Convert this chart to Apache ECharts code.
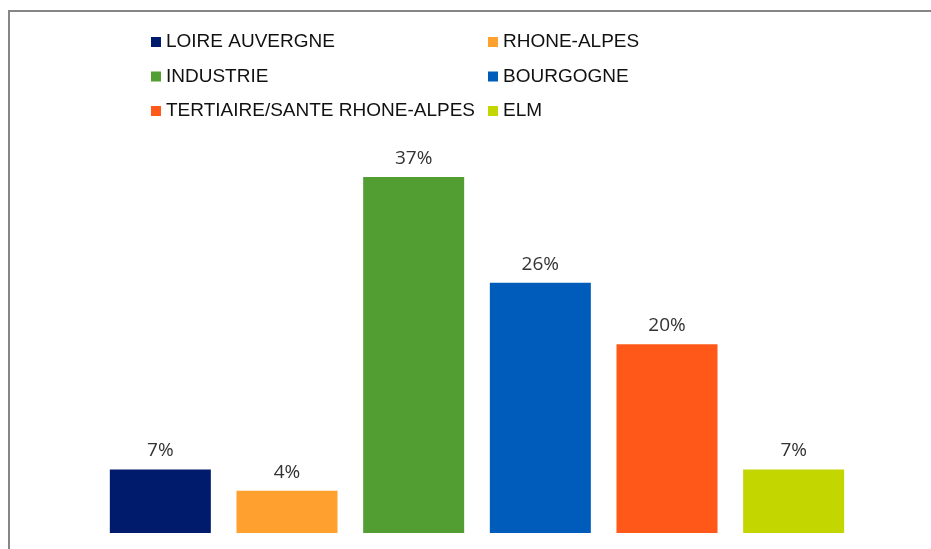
<!DOCTYPE html>
<html>
<head>
<meta charset="utf-8">
<script src="https://cdn.jsdelivr.net/npm/echarts@6/dist/echarts.min.js"></script>
<style>
  html, body { margin: 0; padding: 0; background: #fff; }
  #chart { width: 931px; height: 549px; }
</style>
</head>
<body>
<div id="chart"></div>
<script>
// regions, in the order the bars appear
const categories = ["LOIRE AUVERGNE", "RHONE-ALPES", "INDUSTRIE", "BOURGOGNE", "TERTIAIRE/SANTE RHONE-ALPES", "ELM"];
// share of each region, %
const values = [6.6, 4.4, 37.0, 26.0, 19.6, 6.6];
// printed labels
const valueLabels = ["7%", "4%", "37%", "26%", "20%", "7%"];
const colors = ["#001B6B", "#FFA02F", "#529E32", "#005CBB", "#FF5818", "#C4D600"];

const chart = echarts.init(document.getElementById("chart"));

// one series per region so each gets its own legend entry
const series = categories.map((name, i) => ({
    name: name,
    type: "bar",
    stack: "all",
    barWidth: 101,
    data: values.map((v, j) => (j === i ? v : "-")),
    itemStyle: { color: colors[i] },
    label: {
        show: true,
        position: "top",
        distance: 9,
        formatter: () => valueLabels[i],
        fontFamily: "Open Sans",
        fontSize: 19,
        color: "#333",
    },
}));

const legendBase = {
    orient: "vertical",
    top: 27,
    itemWidth: 10,
    itemHeight: 10,
    itemGap: 14.5,
    icon: "rect",
    textStyle: { fontFamily: "Liberation Sans", fontSize: 19, color: "#111", lineHeight: 20 },
};

chart.setOption({
    animation: false,
    graphic: [{
        type: "rect",
        shape: { x: 9, y: 11, width: 1000, height: 700 },
        style: { fill: null, stroke: "#868686", lineWidth: 2 },
        silent: true,
    }],
    legend: [
        Object.assign({}, legendBase, { left: 146, data: [categories[0], categories[2], categories[4]] }),
        Object.assign({}, legendBase, { left: 483, data: [categories[1], categories[3], categories[5]] }),
    ],
    grid: { left: 97, width: 760, top: 148, bottom: 16 },
    xAxis: {
        type: "category",
        data: categories,
        show: false,
    },
    yAxis: {
        type: "value",
        min: 0,
        max: 40,
        show: false,
    },
    series: series,
});
</script>
</body>
</html>
